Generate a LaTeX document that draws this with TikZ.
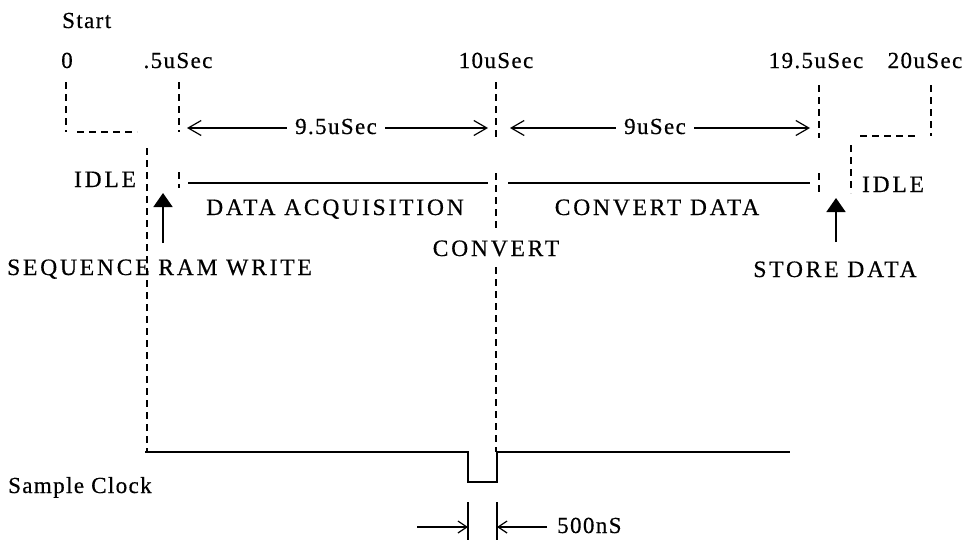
\documentclass[tikz,border=0pt]{standalone}
\usepackage{fontspec}
\setmainfont{Liberation Serif}
\newfontfamily\capsfam{Liberation Serif}[LetterSpace=12,FakeBold=0.5]
\newfontfamily\lblfam{Liberation Serif}[LetterSpace=6,FakeBold=0.5]
\usetikzlibrary{arrows.meta}
\begin{document}
\begin{tikzpicture}[x=1pt,y=-1pt,
  dl/.style={line width=1.4pt, dash pattern=on 7pt off 5pt},
  sl/.style={line width=1.8pt},
  dimarr/.style={line width=1.2pt, -{Straight Barb[length=13pt,width=15pt]}},
  smalldim/.style={line width=1.2pt, -{Straight Barb[length=9pt,width=12pt]}},
  evarr/.style={line width=1.8pt, -{Triangle[length=14pt,width=19pt]}},
  lbl/.style={font=\lblfam\fontsize{23}{27}\selectfont, inner sep=0pt},
  captxt/.style={font=\capsfam\fontsize{23.5}{27}\selectfont, inner sep=0pt}]
\useasboundingbox (0,0) rectangle (973,541);
% labels
\node[lbl, anchor=base west] (start) at (62,28) {Start};
\node[lbl, anchor=base] (l0) at (67,68) {0};
\node[lbl, anchor=base] (l05) at (178,68) {.5uSec};
\node[lbl, anchor=base] (l10) at (496,68) {10uSec};
\node[lbl, anchor=base] (l195) at (816,68) {19.5uSec};
\node[lbl, anchor=base] (l20) at (925,68) {20uSec};
\node[lbl, anchor=base, inner xsep=8pt] (t95) at (336,134) {9.5uSec};
\node[lbl, anchor=base, inner xsep=8pt] (t9) at (655,134) {9uSec};
\node[lbl, anchor=base west] (t500) at (557,533) {500nS};
\node[lbl, anchor=base west] (clk) at (8,493) {Sample Clock};
\node[captxt, anchor=base] (idle1) at (105,187) {IDLE};
\node[captxt, anchor=base] (idle2) at (893,192) {IDLE};
\node[captxt, anchor=base] (acq) at (335,215) {DATA ACQUISITION};
\node[captxt, anchor=base] (cdata) at (657,215) {CONVERT DATA};
\node[captxt, anchor=base] (conv) at (496,256) {CONVERT};
\node[captxt, anchor=base west] (seq) at (7,275) {SEQUENCE RAM WRITE};
\node[captxt, anchor=base] (store) at (835,277) {STORE DATA};
% coordinates
\coordinate (c0t) at (66,82); \coordinate (c0b) at (66,132);
\coordinate (h0a) at (77,132); \coordinate (h0b) at (137,132);
\coordinate (c05t) at (179,82); \coordinate (c05b) at (179,132);
\coordinate (c05c) at (179,172); \coordinate (c05d) at (179,188);
\coordinate (c10t) at (496,82); \coordinate (c10b) at (496,138);
\coordinate (c10c) at (496,173); \coordinate (c10d) at (496,228);
\coordinate (c10e) at (496,267); \coordinate (c10f) at (496,452);
\coordinate (c195t) at (819,85); \coordinate (c195b) at (819,138);
\coordinate (c195c) at (819,173); \coordinate (c195d) at (819,193);
\coordinate (c20t) at (931,85); \coordinate (c20b) at (931,136);
\coordinate (h20a) at (860,136); \coordinate (h20b) at (920,136);
\coordinate (ri0) at (851,145); \coordinate (ri1) at (851,193);
\coordinate (li0) at (147,148); \coordinate (li1) at (147,452);
\coordinate (a95l) at (187,128); \coordinate (a95r) at (488,128);
\coordinate (a9l) at (510,128); \coordinate (a9r) at (810,128);
\coordinate (d1a) at (188,183); \coordinate (d1b) at (488,183);
\coordinate (d2a) at (508,183); \coordinate (d2b) at (810,183);
\coordinate (sa0) at (163,243); \coordinate (sa1) at (163,193);
\coordinate (st0) at (836,242); \coordinate (st1) at (836,198);
\coordinate (k0) at (145,452); \coordinate (k1) at (468,452);
\coordinate (k2) at (468,482); \coordinate (k3) at (497,482);
\coordinate (k4) at (497,452); \coordinate (k5) at (790,452);
\coordinate (m1a) at (468,502); \coordinate (m1b) at (468,540);
\coordinate (m2a) at (497,502); \coordinate (m2b) at (497,540);
\coordinate (p1) at (417,527); \coordinate (p1e) at (468,527);
\coordinate (p2s) at (547,527); \coordinate (p2e) at (497,527);
% dashed guides
\draw[dl] (c0t) -- (c0b);
\draw[dl] (h0a) -- (h0b);
\draw[dl] (c05t) -- (c05b);
\draw[dl] (c05c) -- (c05d);
\draw[dl] (c10t) -- (c10b);
\draw[dl] (c10c) -- (c10d);
\draw[dl] (c10e) -- (c10f);
\draw[dl] (c195t) -- (c195b);
\draw[dl] (c195c) -- (c195d);
\draw[dl] (c20t) -- (c20b);
\draw[dl] (h20a) -- (h20b);
\draw[dl] (ri0) -- (ri1);
\draw[dl] (li0) -- (li1);
% dimension arrows
\draw[dimarr] (t95.west |- a95l) -- (a95l);
\draw[dimarr] (t95.east |- a95r) -- (a95r);
\draw[dimarr] (t9.west |- a9l) -- (a9l);
\draw[dimarr] (t9.east |- a9r) -- (a9r);
% data lines
\draw[sl] (d1a) -- (d1b);
\draw[sl] (d2a) -- (d2b);
% event arrows
\draw[evarr] (sa0) -- (sa1);
\draw[evarr] (st0) -- (st1);
% clock
\draw[sl] (k0) -- (k1) -- (k2) -- (k3) -- (k4) -- (k5);
% 500ns
\draw[line width=1.2pt] (m1a) -- (m1b);
\draw[line width=1.2pt] (m2a) -- (m2b);
\draw[smalldim] (p1) -- (p1e);
\draw[smalldim] (p2s) -- (p2e);
\end{tikzpicture}
\end{document}
